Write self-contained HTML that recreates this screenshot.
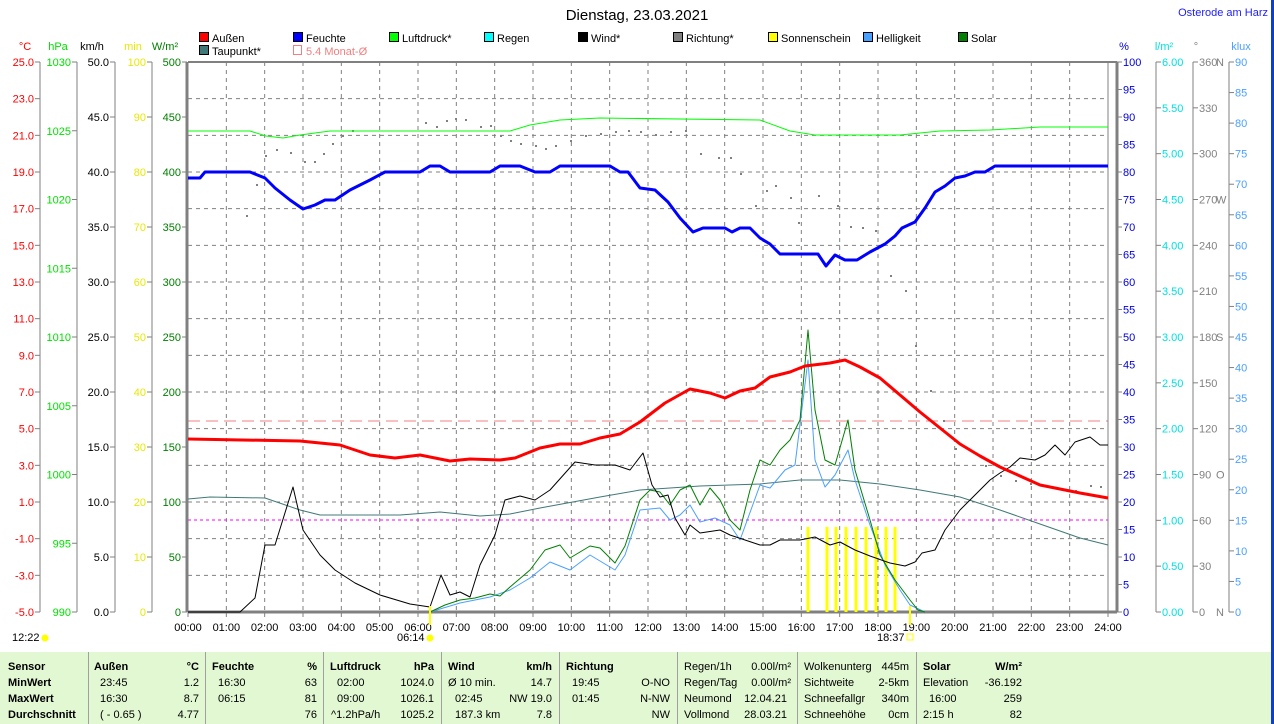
<!DOCTYPE html>
<html><head><meta charset="utf-8">
<style>
html,body{margin:0;padding:0;background:#fff;}
svg{display:block;font-family:"Liberation Sans",sans-serif;font-size:11px;}
</style></head>
<body>
<svg id="s" width="1274" height="724" xmlns="http://www.w3.org/2000/svg">
<rect x="0" y="652" width="1274" height="72" fill="#e2f8d2"/>
<rect x="1271" y="0" width="3" height="724" fill="#1040c0"/>
<text x="637" y="20" font-size="15" text-anchor="middle">Dienstag, 23.03.2021</text>
<text x="1268" y="16" font-size="11" text-anchor="end" fill="#2020ff">Osterode am Harz</text>
<g id="g"></g>
</svg>
<script>
const g=document.getElementById('g');let h='';
const X0=188,X1=1108,Y0=62,Y1=612;
function xt(t){return X0+t*(X1-X0)/24;}
// grid
for(let i=1;i<24;i++){let x=xt(i);h+=`<line x1="${x}" y1="${Y0}" x2="${x}" y2="${Y1}" stroke="#808080" stroke-dasharray="4,4"/>`;}
for(let i=1;i<15;i++){let y=Y0+i*550/15;h+=`<line x1="${X0}" y1="${y}" x2="${X1}" y2="${y}" stroke="#808080" stroke-dasharray="4,4"/>`;}
h+=`<line x1="${X0}" y1="421" x2="${X1}" y2="421" stroke="#f08080" stroke-dasharray="12,6"/>`;
h+=`<line x1="${X0}" y1="520" x2="${X1}" y2="520" stroke="#ff00ff" stroke-dasharray="3,3"/>`;
// frame
h+=`<line x1="${X0}" y1="${Y0}" x2="${X1+9}" y2="${Y0}" stroke="#808080" stroke-width="2"/>`;
h+=`<line x1="${X0-1}" y1="${Y0}" x2="${X0-1}" y2="${Y1}" stroke="#808080" stroke-width="3"/>`;
h+=`<line x1="${X1}" y1="${Y0}" x2="${X1}" y2="${Y1}" stroke="#808080" stroke-width="1"/>`;
h+=`<line x1="${X1+9}" y1="${Y0}" x2="${X1+9}" y2="${Y1}" stroke="#808080" stroke-width="3"/>`;
h+=`<line x1="${X0}" y1="${Y1}" x2="${X1+9}" y2="${Y1}" stroke="#808080" stroke-width="3"/>`;
// x labels
for(let i=0;i<=24;i++){let x=xt(i);h+=`<line x1="${x}" y1="${Y1}" x2="${x}" y2="${Y1+5}" stroke="#808080"/><text x="${x}" y="631" text-anchor="middle">${String(i).padStart(2,'0')}:00</text>`;}
// left axes
function axis(lx,vals,col,fmt,tickRight){let n=vals.length-1;if(lx)h+=`<line x1="${lx}" y1="${Y0}" x2="${lx}" y2="${Y1}" stroke="#808080"/>`;
 vals.forEach((v,i)=>{let y=Y0+i*550/n;h+=`<line x1="${lx-5}" y1="${y}" x2="${lx}" y2="${y}" stroke="#808080"/><text x="${lx-6}" y="${y+4}" text-anchor="end" fill="${col}">${v}</text>`;});}
let a=[];for(let v=25;v>=-5;v-=2)a.push(v.toFixed(1));axis(40,a,'#ff0000');
a=[];for(let v=1030;v>=990;v-=5)a.push(v);axis(77,a,'#00e000');
a=[];for(let v=50;v>=0;v-=5)a.push(v.toFixed(1));axis(115,a,'#000');
a=[];for(let v=100;v>=0;v-=10)a.push(v);axis(152,a,'#e8e800');
a=[];for(let v=500;v>=0;v-=50)a.push(v);axis(187,a,'#008000');
// right axes
function raxis(lx,vals,col,extra){let n=vals.length-1;if(lx!=1117)h+=`<line x1="${lx}" y1="${Y0}" x2="${lx}" y2="${Y1}" stroke="#808080"/>`;
 vals.forEach((v,i)=>{let y=Y0+i*550/n;h+=`<line x1="${lx}" y1="${y}" x2="${lx+5}" y2="${y}" stroke="#808080"/><text x="${lx+6}" y="${y+4}" fill="${col}">${v}</text>`;});}
a=[];for(let v=100;v>=0;v-=5)a.push(v);raxis(1117,a,'#0000e0');
a=[];for(let v=6;v>=0;v-=0.5)a.push(v.toFixed(2));raxis(1156,a,'#00e0e0');
a=[];for(let v=360;v>=0;v-=30)a.push(v);raxis(1193,a,'#808080');
[['N',0],['W',3],['S',6],['O',9],['N',12]].forEach(([c,i])=>{h+=`<text x="1216" y="${Y0+i*550/12+4}" fill="#808080">${c}</text>`;});
a=[];for(let v=90;v>=0;v-=5)a.push(v);raxis(1229,a,'#4aa0ff');
// unit labels
[['°C',25,'#ff0000'],['hPa',58,'#00e000'],['km/h',92,'#000'],['min',133,'#e8e800'],['W/m²',165,'#008000'],['%',1124,'#0000e0'],['l/m²',1164,'#00e0e0'],['°',1196,'#808080'],['klux',1241,'#4aa0ff']].forEach(([t,x,c])=>{h+=`<text x="${x}" y="50" text-anchor="middle" fill="${c}">${t}</text>`;});
// legend
[['Außen','#ff0000',199,38],['Feuchte','#0000ff',293,38],['Luftdruck*','#00ff00',389,38],['Regen','#00ffff',484,38],['Wind*','#000',578,38],['Richtung*','#808080',673,38],['Sonnenschein','#ffff00',768,38],['Helligkeit','#4aa0ff',863,38],['Solar','#008000',958,38],['Taupunkt*','#407878',199,51]].forEach(([t,c,x,y])=>{h+=`<rect x="${x}.5" y="${y-5.5}" width="9" height="9" fill="${c}" stroke="#000"/><text x="${x+13}" y="${y+4}">${t}</text>`;});
h+=`<rect x="293.5" y="45.5" width="8" height="9" fill="none" stroke="#f08080"/><text x="306" y="55" fill="#f08080">5.4 Monat-Ø</text>`;
// dots Richtung
const dots=[[246,215],[256,184],[265,155],[276,149],[290,152],[304,161],[314,161],[323,153],[332,143],[342,135],[352,130],[425,122],[436,126],[446,120],[455,118],[465,119],[480,126],[490,125],[500,135],[510,140],[520,143],[535,145],[545,148],[555,145],[570,140],[585,135],[600,133],[615,131],[628,130],[640,131],[655,134],[670,131],[685,130],[700,153],[718,157],[730,157],[740,173],[755,205],[766,190],[775,185],[790,197],[798,222],[818,195],[837,205],[850,226],[862,227],[875,230],[890,275],[905,290],[915,345],[930,390],[943,420],[955,448],[985,465],[1000,475],[1015,480],[1030,483],[1045,485],[1060,488],[1075,490],[1090,485],[1100,486]];
dots.forEach(([x,y])=>{h+=`<rect x="${x}" y="${y}" width="2" height="2" fill="#808080"/>`;});
function pl(pts,c,w){h+=`<polyline points="${pts.map(p=>p.join(',')).join(' ')}" fill="none" stroke="${c}" stroke-width="${w}" stroke-linejoin="round"/>`;}
// sunshine bars
[808,827,836,846,856,866,876,886,895].forEach(x=>{h+=`<rect x="${x-1.5}" y="527" width="3" height="85" fill="#ffff00"/>`;});
pl([[188,499],[210,497],[265,498],[300,510],[320,515],[400,515],[440,512],[480,516],[510,514],[540,508],[600,497],[640,490],[700,486],[760,484],[800,480],[840,480],[880,484],[920,490],[960,497],[1000,510],[1040,524],[1080,538],[1108,545]],'#407878',1);
pl([[188,131],[250,131],[266,136],[283,138],[300,135],[330,131],[510,131],[530,125],[560,120],[600,118],[760,120],[790,131],[815,135],[900,135],[940,131],[990,130],[1040,127],[1108,127]],'#00ff00',1);
pl([[430,612],[460,603],[490,597],[510,590],[530,578],[550,562],[570,570],[590,555],[615,570],[625,555],[640,510],[660,508],[670,520],[680,515],[690,505],[700,522],[715,518],[730,525],[740,540],[760,485],[770,488],[785,470],[795,465],[808,360],[815,460],[825,487],[835,475],[848,450],[855,480],[870,525],[885,565],[900,590],[910,605],[925,612]],'#4aa0ff',1);
pl([[430,612],[445,605],[460,600],[475,598],[490,594],[500,596],[510,587],[530,570],[545,550],[560,545],[570,558],[590,546],[600,548],[615,563],[625,546],[640,500],[650,490],[660,492],[670,505],[680,490],[690,485],[700,505],[710,488],[720,500],[730,520],[740,530],[750,490],[760,460],[770,465],[780,450],[790,440],[800,420],[808,330],[815,410],[825,460],[835,465],[848,420],[855,470],[870,520],[880,555],[895,580],[910,600],[918,610],[925,612]],'#008000',1);
pl([[188,612],[240,612],[255,598],[265,545],[275,545],[293,487],[303,530],[320,555],[335,570],[355,583],[380,595],[410,604],[430,607],[441,575],[450,595],[460,592],[470,597],[480,565],[495,535],[505,500],[520,496],[535,500],[550,490],[575,462],[595,465],[615,465],[630,470],[643,453],[652,485],[660,497],[668,495],[675,518],[685,535],[690,525],[700,533],[720,530],[730,535],[745,540],[760,545],[770,545],[780,540],[800,540],[815,537],[830,545],[840,542],[855,550],[870,556],[890,563],[905,566],[915,562],[922,553],[935,550],[945,530],[960,510],[975,495],[990,480],[1000,473],[1010,467],[1020,458],[1035,460],[1045,455],[1055,445],[1065,455],[1075,442],[1090,437],[1100,445],[1108,445]],'#000',1);
pl([[188,439],[300,441],[340,445],[370,455],[395,458],[420,455],[450,461],[470,459],[500,460],[515,458],[540,448],[560,444],[580,444],[600,438],[620,434],[640,422],[665,403],[690,389],[710,393],[725,398],[740,391],[755,388],[770,377],[790,372],[805,366],[830,363],[845,360],[860,367],[880,378],[900,395],[920,412],[940,428],[960,444],[980,456],[1000,467],[1020,476],[1040,485],[1060,489],[1080,493],[1108,498]],'#ff0000',3);
pl([[188,178],[200,178],[205,172],[250,172],[265,178],[275,188],[290,200],[303,209],[315,205],[325,200],[335,200],[350,190],[370,180],[385,172],[420,172],[430,166],[440,166],[450,172],[490,172],[500,166],[520,166],[535,172],[550,172],[560,166],[610,166],[620,172],[628,172],[640,188],[655,190],[668,202],[680,218],[693,232],[703,228],[725,228],[732,232],[740,228],[750,228],[760,238],[770,244],[780,254],[818,254],[826,266],[835,255],[845,260],[857,260],[870,252],[885,244],[895,236],[902,228],[915,222],[925,208],[935,192],[945,186],[955,178],[965,176],[975,172],[985,172],[995,166],[1108,166]],'#0000ff',3);
// sunrise/sunset markers
h+=`<line x1="430" y1="606" x2="430" y2="625" stroke="#ffff00" stroke-width="2"/><line x1="910" y1="606" x2="910" y2="625" stroke="#ffff00" stroke-width="2"/>`;
h+=`<text x="12" y="641">12:22</text><circle cx="45" cy="638" r="3.5" fill="#ffff00"/>`;
h+=`<text x="397" y="641">06:14</text><circle cx="430" cy="638" r="3.5" fill="#ffff00"/>`;
h+=`<text x="877" y="641">18:37</text><rect x="907" y="634" width="6" height="6" fill="none" stroke="#ffff00"/>`;
// table
[88.5,205.5,323.5,441.5,559.5,677.5,797.5,916.5].forEach(x=>{h+=`<line x1="${x}" y1="652" x2="${x}" y2="724" stroke="#a0a0a0" stroke-width="1"/>`;});
const R=[670,686,702,718];
function t(x,r,s,b,anc){h+=`<text x="${x}" y="${R[r]}"${b?' font-weight="bold"':''}${anc?' text-anchor="end"':''}>${s}</text>`;}
['Sensor','MinWert','MaxWert','Durchschnitt'].forEach((s,i)=>t(8,i,s,1));
t(94,0,'Außen',1);t(199,0,'°C',1,1);t(212,0,'Feuchte',1);t(317,0,'%',1,1);t(330,0,'Luftdruck',1);t(434,0,'hPa',1,1);t(448,0,'Wind',1);t(552,0,'km/h',1,1);t(566,0,'Richtung',1);
t(100,1,'23:45');t(199,1,'1.2',0,1);t(100,2,'16:30');t(199,2,'8.7',0,1);t(100,3,'( - 0.65 )');t(199,3,'4.77',0,1);
t(218,1,'16:30');t(317,1,'63',0,1);t(218,2,'06:15');t(317,2,'81',0,1);t(317,3,'76',0,1);
t(337,1,'02:00');t(434,1,'1024.0',0,1);t(337,2,'09:00');t(434,2,'1026.1',0,1);t(331,3,'^1.2hPa/h');t(434,3,'1025.2',0,1);
t(448,1,'Ø 10 min.');t(552,1,'14.7',0,1);t(455,2,'02:45');t(552,2,'NW 19.0',0,1);t(455,3,'187.3 km');t(552,3,'7.8',0,1);
t(572,1,'19:45');t(670,1,'O-NO',0,1);t(572,2,'01:45');t(670,2,'N-NW',0,1);t(670,3,'NW',0,1);
t(684,0,'Regen/1h');t(791,0,'0.00l/m²',0,1);t(684,1,'Regen/Tag');t(791,1,'0.00l/m²',0,1);t(684,2,'Neumond');t(787,2,'12.04.21',0,1);t(684,3,'Vollmond');t(787,3,'28.03.21',0,1);
t(804,0,'Wolkenunterg');t(909,0,'445m',0,1);t(804,1,'Sichtweite');t(909,1,'2-5km',0,1);t(804,2,'Schneefallgr');t(909,2,'340m',0,1);t(804,3,'Schneehöhe');t(909,3,'0cm',0,1);
t(923,0,'Solar',1);t(1022,0,'W/m²',1,1);t(923,1,'Elevation');t(1022,1,'-36.192',0,1);t(929,2,'16:00');t(1022,2,'259',0,1);t(923,3,'2:15 h');t(1022,3,'82',0,1);
g.innerHTML=h;
</script>
</body></html>
